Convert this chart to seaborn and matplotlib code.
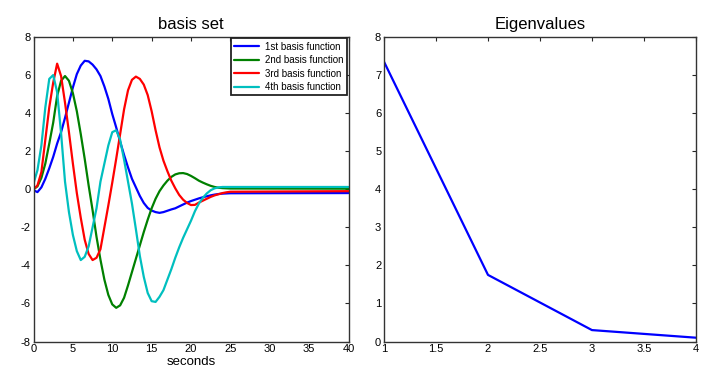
import numpy as np
import pandas as pd
import matplotlib
matplotlib.use("Agg")
import matplotlib.pyplot as plt
import seaborn as sns

# ---- data ----
seconds = [0, 0.5, 1, 1.5, 2, 2.5, 3, 3.5, 4, 4.5, 5, 5.5, 6, 6.5, 7, 7.5, 8, 8.5,
           9, 9.5, 10, 10.5, 11, 11.5, 12, 12.5, 13, 13.5, 14, 14.5, 15, 15.5, 16,
           16.5, 17, 17.5, 18, 18.5, 19, 19.5, 20, 20.5, 21, 21.5, 22, 22.5, 23,
           23.5, 24, 24.5, 25, 40]

basis1 = [-0.05, -0.15, 0.1, 0.55, 1.1, 1.7, 2.4, 3.0, 3.75, 4.55, 5.35, 6.05, 6.5,
          6.75, 6.72, 6.55, 6.3, 5.95, 5.4, 4.75, 3.95, 3.25, 2.5, 1.8, 1.15, 0.55,
          0.1, -0.35, -0.72, -0.98, -1.12, -1.2, -1.24, -1.2, -1.13, -1.06, -1.0,
          -0.9, -0.8, -0.7, -0.62, -0.55, -0.48, -0.42, -0.37, -0.32, -0.28, -0.25,
          -0.23, -0.22, -0.21, -0.2]
basis2 = [0.0, 0.15, 0.6, 1.35, 2.4, 3.5, 4.9, 5.7, 5.95, 5.7, 5.05, 4.1, 2.9, 1.6,
          0.2, -1.1, -2.5, -3.7, -4.75, -5.55, -6.05, -6.23, -6.1, -5.7, -5.05,
          -4.35, -3.65, -2.95, -2.25, -1.6, -1.0, -0.5, -0.1, 0.2, 0.45, 0.65, 0.78,
          0.84, 0.85, 0.8, 0.7, 0.58, 0.45, 0.35, 0.26, 0.18, 0.12, 0.08, 0.06, 0.05,
          0.04, 0.03]
basis3 = [0.0, 0.2, 0.9, 2.6, 4.3, 5.6, 6.6, 5.95, 4.55, 3.0, 1.35, -0.2, -1.5,
          -2.65, -3.4, -3.72, -3.6, -3.15, -2.0, -0.85, 0.35, 1.6, 2.9, 4.2, 5.2,
          5.75, 5.92, 5.8, 5.5, 4.95, 4.1, 3.1, 2.2, 1.5, 0.95, 0.45, 0.05, -0.3,
          -0.55, -0.72, -0.83, -0.82, -0.7, -0.6, -0.5, -0.4, -0.32, -0.26, -0.2,
          -0.16, -0.13, -0.1]
basis4 = [0.3, 1.0, 2.3, 4.3, 5.8, 6.0, 5.1, 2.95, 0.4, -1.2, -2.4, -3.25, -3.72,
          -3.55, -3.0, -2.0, -1.0, 0.4, 1.35, 2.3, 3.0, 3.1, 2.6, 1.55, 0.4, -0.75,
          -2.1, -3.5, -4.6, -5.45, -5.88, -5.92, -5.65, -5.3, -4.75, -4.2, -3.6,
          -3.05, -2.55, -2.1, -1.65, -1.15, -0.75, -0.45, -0.22, -0.05, 0.05, 0.1,
          0.12, 0.12, 0.12, 0.12]

series_names = ["1st basis function", "2nd basis function",
                "3rd basis function", "4th basis function"]
colors = ["#0000ff", "#008000", "#ff0000", "#00bfbf"]

eig_index = [1, 2, 3, 4]
eig_values = [7.35, 1.75, 0.3, 0.1]

# ---- figure ----
sns.set_theme(style="white")
plt.rcParams.update({
    "font.family": ["Liberation Sans", "DejaVu Sans"],
    "axes.unicode_minus": False,
    "xtick.direction": "in", "ytick.direction": "in",
    "xtick.top": True, "ytick.right": True,
    "xtick.major.size": 3, "ytick.major.size": 3,
    "xtick.major.width": 0.8, "ytick.major.width": 0.8,
    "xtick.labelsize": 8, "ytick.labelsize": 8,
    "xtick.labelcolor": "black", "ytick.labelcolor": "black",
    "xtick.major.pad": 2, "ytick.major.pad": 2,
    "axes.edgecolor": "#333333", "axes.linewidth": 1.0,
    "text.color": "black", "axes.labelcolor": "black",
})

fig = plt.figure(figsize=(7.01, 3.80), dpi=100)
ax1 = fig.add_axes([0.0478, 0.1013, 0.4494, 0.8013])
ax2 = fig.add_axes([0.5478, 0.1013, 0.4450, 0.8013])

df = pd.concat([
    pd.DataFrame({"seconds": seconds, "value": vals, "series": name})
    for name, vals in zip(series_names, [basis1, basis2, basis3, basis4])
], ignore_index=True)

sns.lineplot(data=df, x="seconds", y="value", hue="series",
             palette=dict(zip(series_names, colors)), hue_order=series_names,
             errorbar=None, linewidth=1.6, ax=ax1, sort=True)

ax1.set_xlim(0, 40)
ax1.set_ylim(-8, 8)
ax1.set_xticks(range(0, 41, 5))
ax1.set_yticks(range(-8, 9, 2))
ax1.set_title("basis set", fontsize=12, pad=6)
ax1.set_xlabel("seconds", fontsize=9.5, labelpad=1)
ax1.set_ylabel("")
leg = ax1.legend(loc="upper right", fontsize=7, frameon=True, fancybox=False,
                 edgecolor="#222222", framealpha=1, handlelength=2.6,
                 borderaxespad=0.15, labelspacing=0.35, borderpad=0.35,
                 handletextpad=0.6)
leg.get_frame().set_linewidth(1.3)
for line in leg.get_lines():
    line.set_linewidth(1.6)

sns.lineplot(x=eig_index, y=eig_values, color="#0000ff", linewidth=1.6,
             errorbar=None, ax=ax2)
ax2.set_xlim(1, 4)
ax2.set_ylim(0, 8)
ax2.set_xticks([1, 1.5, 2, 2.5, 3, 3.5, 4])
ax2.set_xticklabels(["1", "1.5", "2", "2.5", "3", "3.5", "4"])
ax2.set_yticks(range(0, 9))
ax2.set_title("Eigenvalues", fontsize=12, pad=6)

for ax in (ax1, ax2):
    for sp in ax.spines.values():
        sp.set_visible(True)
        sp.set_color("#333333")

fig.savefig("out.png", dpi=100)
